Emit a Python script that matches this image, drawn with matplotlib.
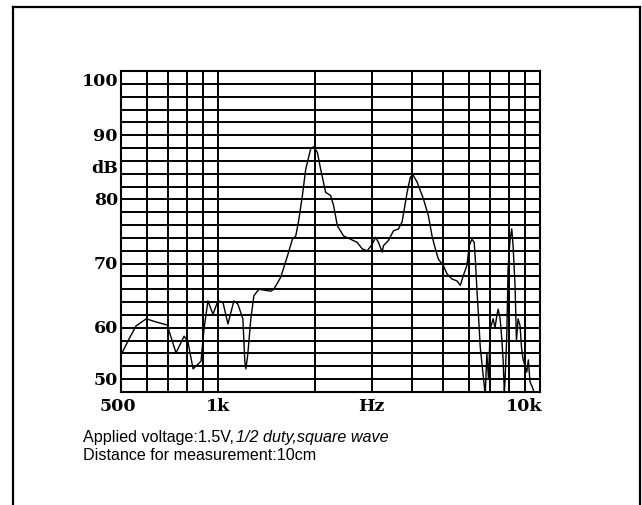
import matplotlib
matplotlib.use("Agg")
import matplotlib.pyplot as plt
from matplotlib.lines import Line2D
import numpy as np

# ---- data ----
freq_hz = [505, 530, 557, 599, 643, 700, 705, 741, 785, 807, 837, 886, 899, 905,
           931, 965, 1000, 1036, 1074, 1121, 1153, 1195, 1212, 1221, 1238, 1265,
           1293, 1340, 1459, 1491, 1567, 1644, 1703, 1744, 1781, 1829, 1873, 1941,
           1983, 2036, 2084, 2160, 2238, 2287, 2348, 2455, 2581, 2707, 2805, 2907,
           3013, 3085, 3151, 3236, 3266, 3384, 3507, 3635, 3731, 3867, 3959, 4045,
           4153, 4344, 4501, 4621, 4732, 4834, 5010, 5144, 5331, 5524, 5656, 5776,
           5930, 6028, 6145, 6248, 6300, 6369, 6450, 6523, 6664, 6760, 6800, 6839,
           6920, 7002, 7153, 7250, 7344, 7413, 7519, 7610, 7681, 7750, 7792, 7886,
           7959, 8074, 8172, 8248, 8366, 8450, 8548, 8672, 8760, 8860, 9096, 9200,
           9311, 9512, 9700]
level_db = [56.2, 58.3, 60.3, 61.4, 60.9, 60.4, 59.5, 56.1, 58.7, 57.8, 53.6, 54.8, 58.3, 59.8,
            64.2, 62.1, 64.2, 64.0, 60.6, 64.2, 63.7, 61.4, 54.7, 53.6, 55.9, 61.4,
            65.0, 66.0, 65.7, 66.0, 67.9, 71.2, 73.8, 74.3, 76.7, 80.6, 84.7, 87.9,
            88.2, 87.3, 84.7, 81.1, 80.6, 79.0, 75.9, 74.3, 73.8, 73.3, 72.3, 72.0,
            73.0, 74.1, 73.3, 71.8, 72.8, 73.6, 75.1, 75.4, 76.5, 81.1, 83.5, 83.7,
            82.7, 80.1, 77.5, 74.3, 72.3, 70.7, 69.7, 68.4, 67.6, 67.3, 66.6, 68.1,
            69.7, 72.8, 73.8, 73.3, 70.5, 66.0, 61.4, 57.0, 52.5, 49.5, 53.0, 56.0,
            52.0, 59.8, 61.4, 60.0, 61.9, 62.9, 61.4, 58.3, 55.0, 50.0, 52.0, 58.8,
            69.2, 73.8, 75.4, 72.8, 66.6, 58.0, 61.4, 60.3, 57.0, 55.1, 53.1, 55.0,
            51.6, 50.5, 49.0]

x_grid = [500, 600, 700, 800, 900, 1000, 2000, 3000, 4000, 5000, 6000, 7000, 8000, 9000, 10000]
y_grid = list(range(50, 101, 2))
y_tick_vals = [50, 60, 70, 80, 90, 100]
y_tick_labels = ["50", "60", "70", "80", "90", "100"]
x_tick_vals = [500, 1000, 3000, 10000]
x_tick_labels = ["500", "1k", "Hz", "10k"]
unit_label = "dB"
unit_pos = 85
caption = ["Applied voltage:1.5V,", "1/2 duty,square wave", "Distance for measurement:10cm"]

W, H = 642, 506
fig = plt.figure(figsize=(W / 100, H / 100), dpi=100)
ax = fig.add_axes([121 / W, 113 / H, 419 / W, 321 / H])
ax.set_xscale("log")
ax.set_xlim(500, 10000)
ax.set_ylim(50, 100)

for xv in x_grid:
    ax.axvline(xv, color="black", lw=1.4, zorder=1)
for yv in y_grid:
    ax.axhline(yv, color="black", lw=1.4, zorder=1)

ax.plot(freq_hz, level_db, color="black", lw=1.0, zorder=3)

ax.set_xticks([])
ax.set_yticks([])
ax.minorticks_off()
for s in ax.spines.values():
    s.set_linewidth(1.5)

tick_font = dict(family="DejaVu Serif", fontweight="bold", fontsize=12.5, color="black")
ytr = ax.get_yaxis_transform()
for v, lab in zip(y_tick_vals, y_tick_labels):
    off = 0
    if v == max(y_tick_vals):
        off = -10
    elif v == min(y_tick_vals):
        off = 12
    ax.annotate(lab, xy=(0, v), xycoords=ytr, xytext=(-3, off), textcoords="offset pixels",
                ha="right", va="center", **tick_font)
ax.annotate(unit_label, xy=(0, unit_pos), xycoords=ytr, xytext=(-3, 0), textcoords="offset pixels",
            ha="right", va="center", **tick_font)

xtr = ax.get_xaxis_transform()
for v, lab in zip(x_tick_vals, x_tick_labels):
    ha = "right" if v == max(x_tick_vals) else "center"
    dx = -3 if lab == "500" else (2 if ha == "right" else 0)
    ax.annotate(lab, xy=(v, 0), xycoords=xtr, xytext=(dx, -14), textcoords="offset pixels",
                ha=ha, va="center", **tick_font)

cap_font = dict(family="Liberation Sans", fontsize=11.6, color="black")
t1 = fig.text(83 / W, 1 - 438 / H, caption[0], ha="left", va="center", **cap_font)
fig.canvas.draw()
bb = t1.get_window_extent()
fig.text(bb.x1 / W + 2 / W, 1 - 438 / H, caption[1], ha="left", va="center", style="italic", **cap_font)
fig.text(83 / W, 1 - 456 / H, caption[2], ha="left", va="center", **cap_font)

# outer frame (open at the bottom)
lx, rx, ty = 12.5 / W, 639.5 / W, 1 - 7.5 / H
for xs, ys in [([lx, rx], [ty, ty]), ([lx, lx], [ty, 0]), ([rx, rx], [ty, 0])]:
    fig.add_artist(Line2D(xs, ys, transform=fig.transFigure, color="black", lw=1.6))

fig.savefig("out.png", dpi=100)
